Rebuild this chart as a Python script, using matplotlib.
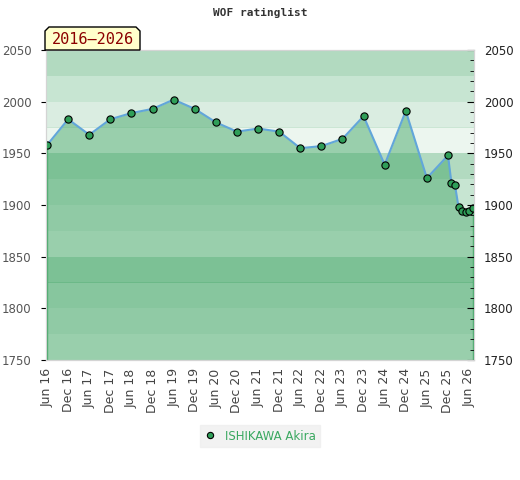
import matplotlib.pyplot as plt
from matplotlib.patches import Polygon
from matplotlib.ticker import MultipleLocator

# months counted from Jun 2016
months = [0, 6, 12, 18, 24, 30, 36, 42, 48, 54, 60, 66, 72, 78, 84, 90, 96, 102,
          108, 114, 115, 116, 117, 118, 119, 120, 121]
rating = [1958, 1983, 1968, 1983, 1989, 1993, 2002, 1993, 1980, 1971, 1974, 1971,
          1955, 1957, 1964, 1986, 1939, 1991, 1926, 1948, 1921, 1919, 1898, 1894,
          1893, 1894, 1897]
tick_labels = ["Jun 16", "Dec 16", "Jun 17", "Dec 17", "Jun 18", "Dec 18", "Jun 19",
               "Dec 19", "Jun 20", "Dec 20", "Jun 21", "Dec 21", "Jun 22", "Dec 22",
               "Jun 23", "Dec 23", "Jun 24", "Dec 24", "Jun 25", "Dec 25", "Jun 26"]
player = "ISHIKAWA Akira"

green = "#48a96b"
ymin, ymax = 1750, 2050

fig = plt.figure(figsize=(5.2, 4.8), dpi=100)
ax = fig.add_axes([46/520, 1-360/480, 428/520, 310/480])

# banded background, every 25 points, darker at the top of each 100 block
for lo in range(ymin, ymax, 25):
    k = ((ymax - 25 - lo) // 25) % 4
    ax.axhspan(lo, lo + 25, color=green, alpha=[0.42, 0.3, 0.2, 0.1][k], lw=0, zorder=0)

ax.fill_between(months, rating, ymin, color=green, alpha=0.5, lw=0, zorder=1)
ax.vlines([months[0], months[-1]], ymin, [rating[0], rating[-1]], color=green, lw=1, zorder=2)
ax.plot(months, rating, color="#62a6da", lw=1.5, zorder=3)
ax.plot(months, rating, "o", ms=5.2, mfc="#2f9e58", mec="black", mew=0.8, zorder=4)

ax.set_xlim(-0.3, 121.4)
ax.set_ylim(ymin, ymax)
ax.set_xticks(range(0, 121, 6))
ax.set_xticklabels(tick_labels, rotation=90, color="#444444", fontsize=9)
ax.tick_params(axis="x", length=0, pad=6)
ax.set_yticks(range(ymin, ymax + 1, 50))
ax.tick_params(axis="y", left=False, labelleft=True, labelsize=8.5, labelcolor="#555555", pad=7)

ax2 = ax.twinx()
ax2.set_ylim(ymin, ymax)
ax2.set_yticks(range(ymin, ymax + 1, 50))
ax2.yaxis.set_minor_locator(MultipleLocator(10))
ax2.tick_params(axis="y", which="major", direction="in", length=5, labelsize=8.5,
                labelcolor="#222222", pad=7)
ax2.tick_params(axis="y", which="minor", direction="in", length=3)

for a in (ax, ax2):
    for s in a.spines.values():
        s.set_color("#d4d4d4")

fig.text(0.5, 1-13/480, "WOF ratinglist", ha="center", va="center",
         family="DejaVu Sans Mono", fontweight="bold", fontsize=8, color="#333333")

# year range tag with cut corners
pts = [(45, 50), (45, 31), (49, 27), (136, 27), (140, 31), (140, 50)]
fig.patches.append(Polygon([(x/520, 1-y/480) for x, y in pts], closed=True,
                           transform=fig.transFigure, fc="#ffffcc", ec="black", lw=1))
fig.text(92.5/520, 1-39.5/480, "2016–2026", ha="center", va="center",
         family="DejaVu Sans Mono", fontsize=11, color="#8b0000")

h, = ax.plot([], [], "o", ms=4.5, mfc="#2f9e58", mec="black", mew=0.8)
leg = fig.legend([h], [player], loc="center", bbox_to_anchor=(260/520, 1-436/480),
                 frameon=True, fancybox=False, fontsize=8.5, handlelength=1,
                 handletextpad=0.7, borderpad=0.35, borderaxespad=0)
leg.get_frame().set_facecolor("#efefef")
leg.get_frame().set_edgecolor("#efefef")
for t in leg.get_texts():
    t.set_color("#3aa860")

fig.savefig("out.png", dpi=100)
